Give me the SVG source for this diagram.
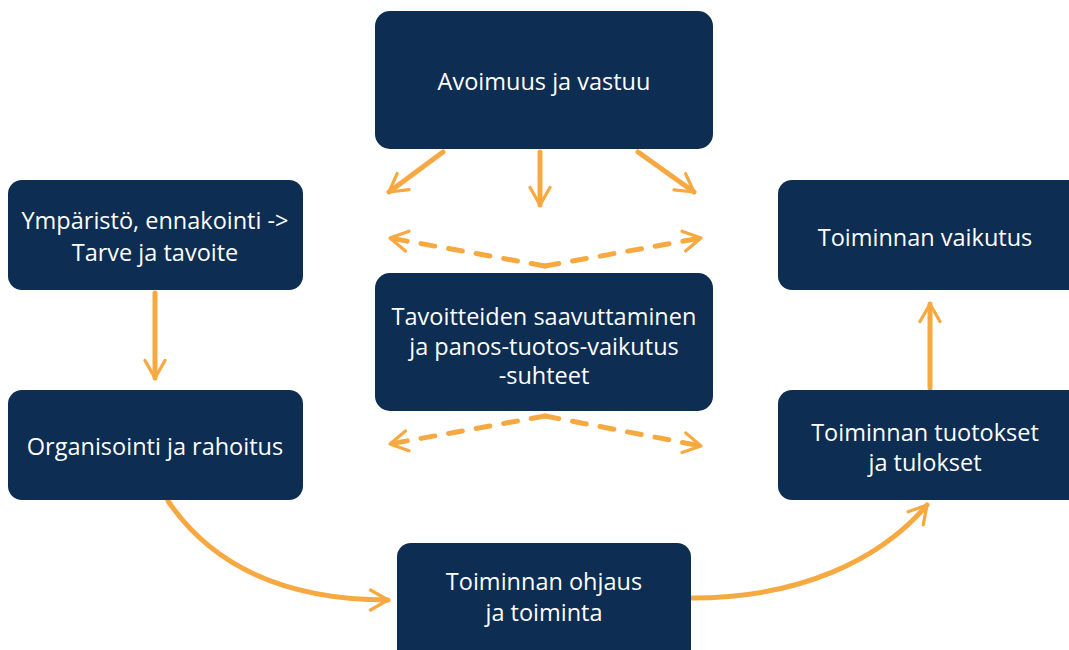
<svg xmlns="http://www.w3.org/2000/svg" width="1069" height="650" viewBox="0 0 1069 650">
<style>
.box{fill:#0d2d52;}
.t{fill:#ffffff;font-family:"Open Sans","Liberation Sans",sans-serif;font-size:23.5px;text-anchor:middle;}
.c{fill:none;stroke:#f7a941;stroke-width:5;stroke-linecap:round;stroke-linejoin:round;}
.d{stroke-dasharray:14 14;}
</style>
<defs>
<marker id="ah" viewBox="0 0 10 10" refX="8" refY="5" markerWidth="5" markerHeight="5" orient="auto" markerUnits="strokeWidth">
<path d="M1,1 L8,5 L1,9" fill="none" stroke="#f7a941" stroke-width="1.3" stroke-linecap="round" stroke-linejoin="round"/>
</marker>
</defs>
<rect width="1069" height="650" fill="#ffffff"/>
<g id="connectors">
<line class="c" x1="443" y1="152" x2="389" y2="192" marker-end="url(#ah)"/>
<line class="c" x1="540" y1="152" x2="540" y2="205" marker-end="url(#ah)"/>
<line class="c" x1="638" y1="152" x2="694" y2="192" marker-end="url(#ah)"/>
<path class="c d" d="M545,266 L390,238" marker-end="url(#ah)"/>
<path class="c d" d="M545,266 L701,238" marker-end="url(#ah)"/>
<path class="c d" d="M545,416 L390,444" marker-end="url(#ah)"/>
<path class="c d" d="M545,416 L701,446" marker-end="url(#ah)"/>
<line class="c" x1="155" y1="293" x2="155" y2="378" marker-end="url(#ah)"/>
<line class="c" x1="930" y1="388" x2="930" y2="304" marker-end="url(#ah)"/>
<path class="c" d="M168,501 C215,570 290,600 388,600" marker-end="url(#ah)"/>
<path class="c" d="M692,598 C800,598 880,560 927,505" marker-end="url(#ah)"/>
</g>
<g id="n-avoimuus">
<rect class="box" x="375" y="11" width="338" height="138" rx="15"/>
<text class="t" x="544" y="90">Avoimuus ja vastuu</text>
</g>
<g id="n-ymparisto">
<rect class="box" x="8" y="180" width="295" height="110" rx="14"/>
<text class="t" x="155" y="229">Ympäristö, ennakointi -&gt;</text>
<text class="t" x="155" y="261">Tarve ja tavoite</text>
</g>
<g id="n-tavoitteiden">
<rect class="box" x="375" y="273" width="338" height="138" rx="15"/>
<text class="t" x="544" y="325">Tavoitteiden saavuttaminen</text>
<text class="t" x="544" y="355">ja panos-tuotos-vaikutus</text>
<text class="t" x="544" y="384">-suhteet</text>
</g>
<g id="n-vaikutus">
<rect class="box" x="778" y="180" width="305" height="110" rx="14"/>
<text class="t" x="925" y="246">Toiminnan vaikutus</text>
</g>
<g id="n-organisointi">
<rect class="box" x="8" y="390" width="295" height="110" rx="14"/>
<text class="t" x="155" y="455">Organisointi ja rahoitus</text>
</g>
<g id="n-tuotokset">
<rect class="box" x="778" y="390" width="305" height="110" rx="14"/>
<text class="t" x="925" y="441">Toiminnan tuotokset</text>
<text class="t" x="925" y="471">ja tulokset</text>
</g>
<g id="n-ohjaus">
<rect class="box" x="397" y="543" width="294" height="120" rx="14"/>
<text class="t" x="544" y="590">Toiminnan ohjaus</text>
<text class="t" x="544" y="621">ja toiminta</text>
</g>
</svg>
